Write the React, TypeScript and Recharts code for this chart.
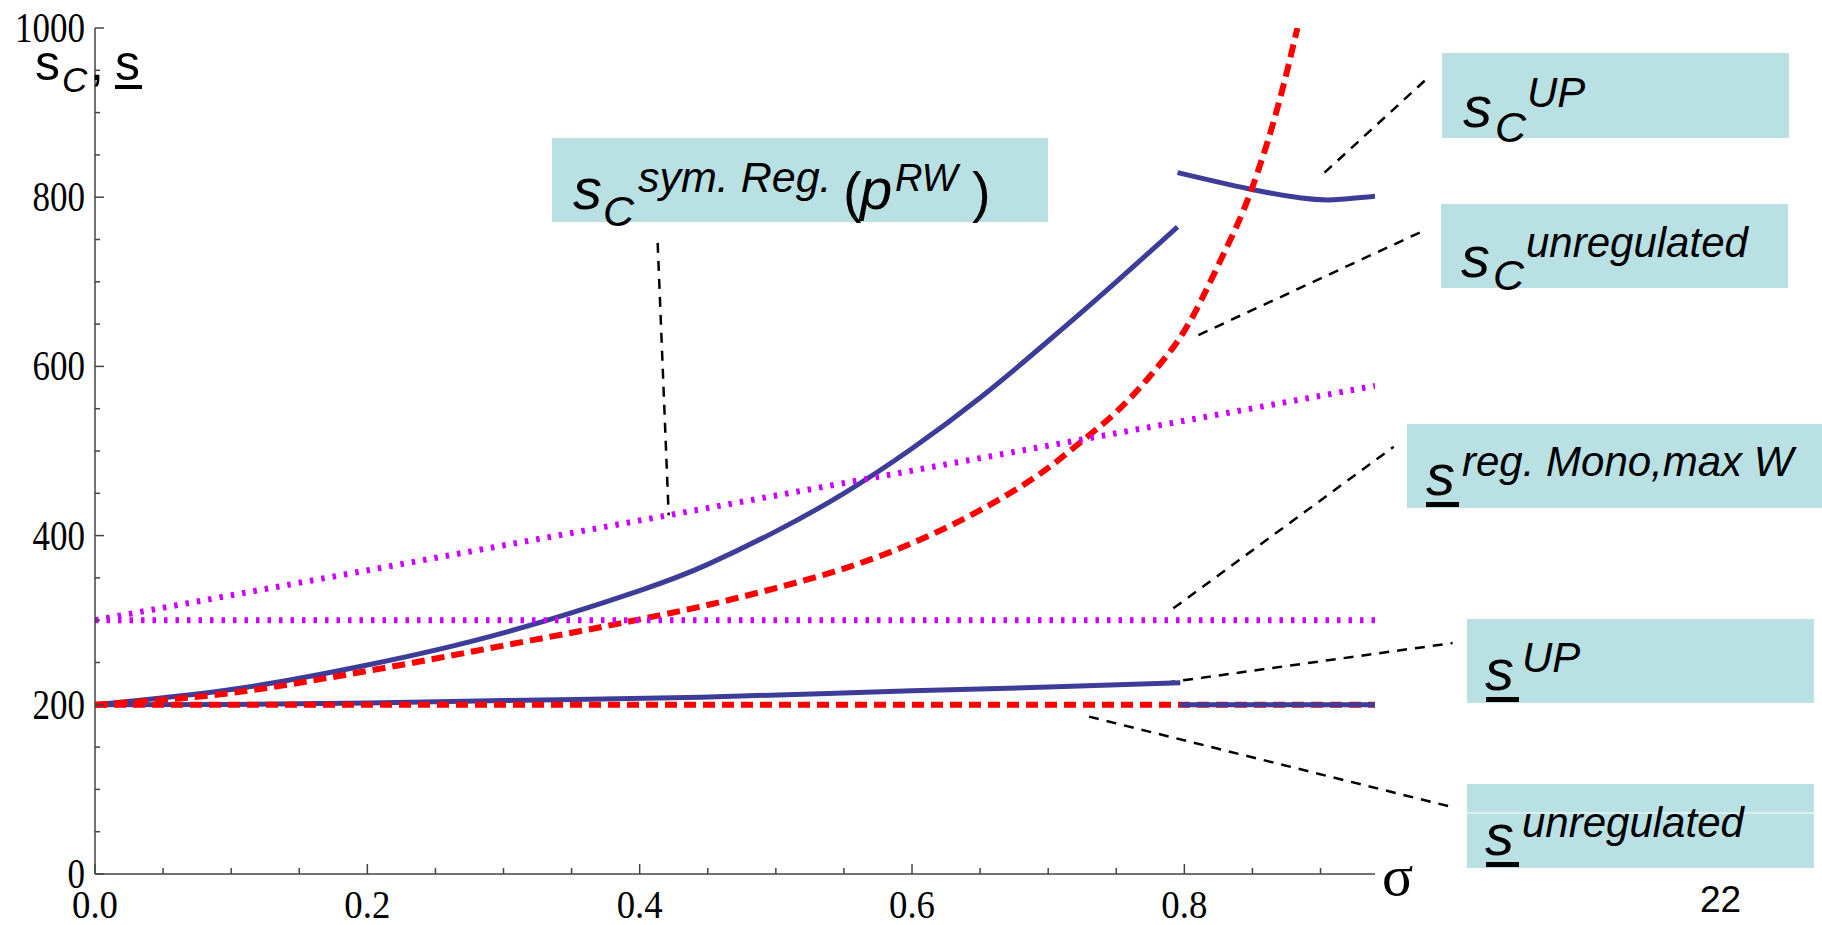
import React from "react";
import { LineChart, Line, XAxis, YAxis, ReferenceLine } from "recharts";

// axis ticks (minor every 0.05 / 50, labels on the majors)
const sigmaTicks = [0, 0.05, 0.1, 0.15, 0.2, 0.25, 0.3, 0.35, 0.4, 0.45, 0.5, 0.55, 0.6, 0.65, 0.7, 0.75, 0.8, 0.85, 0.9];
const sigmaLabels = [0, 0.2, 0.4, 0.6, 0.8];
const sTicks = [0, 50, 100, 150, 200, 250, 300, 350, 400, 450, 500, 550, 600, 650, 700, 750, 800, 850, 900, 950, 1000];
const sLabels = [0, 200, 400, 600, 800, 1000];

// s_C^UP, two branches
const scUpSigmaA = [0, 0.1, 0.2, 0.3, 0.4, 0.45, 0.5, 0.55, 0.6, 0.65, 0.7, 0.75, 0.795];
const scUpValueA = [200, 218, 247, 285, 335, 366, 405, 450, 503, 563, 630, 700, 765];
const scUpSigmaB = [0.795, 0.847, 0.886, 0.91, 0.94];
const scUpValueB = [829, 810, 799, 797, 801];

// s_C^unregulated
const scUnregSigma = [0, 0.1, 0.2, 0.3, 0.4, 0.45, 0.5, 0.55, 0.6, 0.65, 0.7, 0.725, 0.75, 0.775, 0.8, 0.825, 0.85, 0.87, 0.883];
const scUnregValue = [200, 214, 240, 270, 301, 318, 338, 361, 391, 430, 480, 512, 546, 589, 642, 720, 812, 915, 1000];

// s_C^sym. Reg.(p^RW)
const scSymSigma = [0, 0.94];
const scSymValue = [300, 577];

// s^reg. Mono, max W
const sMonoSigma = [0, 0.94];
const sMonoValue = [300, 300];

// s^UP, two branches
const sUpSigmaA = [0, 0.1, 0.2, 0.3, 0.445, 0.6, 0.7, 0.797];
const sUpValueA = [200, 200.5, 202, 205, 209, 216.5, 221, 226];
const sUpSigmaB = [0.797, 0.94];
const sUpValueB = [200, 200];

// s^unregulated
const sUnregSigma = [0, 0.94];
const sUnregValue = [200, 200];

// leader lines from each curve to its label box, in data units
const leaders = [
  [[0.4132, 746], [0.4213, 424]],
  [[0.9029, 829], [0.9794, 942]],
  [[0.8103, 637], [0.9779, 762]],
  [[0.7919, 314], [0.9537, 505]],
  [[0.786, 226], [0.997, 273]],
  [[0.73, 186], [0.997, 79]],
];

const BLUE = "#3d3d99";
const RED = "#ff0000";
const MAGENTA = "#cc00ff";
const BOX = "#b9e0e2";
const AXIS = "#444";

const pts = (xs: number[], ys: number[]) => xs.map((x, i) => ({ sigma: x, s: ys[i] }));

function SigmaTick(props: any) {
  const { x, y, payload } = props;
  const v = payload.value;
  const major = sigmaLabels.includes(v);
  return (
    <g>
      <line x1={x} x2={x} y1={y} y2={y - (major ? 10 : 6)} stroke={AXIS} strokeWidth={1.5} />
      {major && (
        <text x={x} y={y + 44} textAnchor="middle" fontFamily="Liberation Serif" fontSize={41}
          textLength={46} lengthAdjust="spacingAndGlyphs" fill="#000">
          {v.toFixed(1)}
        </text>
      )}
    </g>
  );
}

function STick(props: any) {
  const { x, y, payload } = props;
  const v = payload.value;
  const major = sLabels.includes(v);
  const label = String(v);
  return (
    <g>
      <line x1={x} x2={x + (major ? 9 : 5)} y1={y} y2={y} stroke={AXIS} strokeWidth={1.5} />
      {major && (
        <text x={x - 10} y={y + 14} textAnchor="end" fontFamily="Liberation Serif" fontSize={42}
          textLength={label.length * 17.5} lengthAdjust="spacingAndGlyphs" fill="#000">
          {label}
        </text>
      )}
    </g>
  );
}

const sans = "Liberation Sans, Arial, sans-serif";

function Labels() {
  return (
    <svg width={1822} height={925} style={{ position: "absolute", left: 0, top: 0, pointerEvents: "none" }}>
      {/* axis titles */}
      <text fontFamily={sans} fill="#000">
        <tspan x={35} y={80} fontSize={50}>s</tspan>
        <tspan x={62} y={92} fontSize={35} fontStyle="italic">C</tspan>
        <tspan x={90} y={80} fontSize={50}>,</tspan>
        <tspan x={115} y={80} fontSize={50}>s</tspan>
      </text>
      <rect x={115} y={85} width={27} height={4} fill="#000" />
      <text x={1382} y={895} fontFamily="Liberation Serif" fontSize={58} fill="#000">σ</text>
      <text x={1700} y={912} fontFamily={sans} fontSize={37} fill="#000">22</text>

      {/* s_C^sym. Reg.(p^RW) */}
      <rect x={552} y={138} width={496} height={84} fill={BOX} />
      <text fontFamily={sans} fontStyle="italic" fill="#000">
        <tspan x={573} y={209} fontSize={58}>s</tspan>
        <tspan x={603} y={226} fontSize={43}>C</tspan>
        <tspan x={638} y={192} fontSize={43}>sym. Reg.</tspan>
        <tspan x={843} y={211} fontSize={56} fontStyle="normal">(</tspan>
        <tspan x={860} y={209} fontSize={58}>p</tspan>
        <tspan x={895} y={191} fontSize={38}>RW</tspan>
        <tspan x={972} y={211} fontSize={56} fontStyle="normal">)</tspan>
      </text>

      {/* s_C^UP */}
      <rect x={1442} y={53} width={347} height={85} fill={BOX} />
      <text fontFamily={sans} fontStyle="italic" fill="#000">
        <tspan x={1463} y={127} fontSize={58}>s</tspan>
        <tspan x={1495} y={142} fontSize={43}>C</tspan>
        <tspan x={1527} y={107} fontSize={42}>UP</tspan>
      </text>

      {/* s_C^unregulated */}
      <rect x={1441} y={204} width={347} height={84} fill={BOX} />
      <text fontFamily={sans} fontStyle="italic" fill="#000">
        <tspan x={1461} y={277} fontSize={58}>s</tspan>
        <tspan x={1493} y={290} fontSize={43}>C</tspan>
        <tspan x={1526} y={257} fontSize={42}>unregulated</tspan>
      </text>

      {/* s^reg. Mono,max W */}
      <rect x={1407} y={424} width={415} height={84} fill={BOX} />
      <text fontFamily={sans} fontStyle="italic" fill="#000">
        <tspan x={1426} y={495} fontSize={58}>s</tspan>
        <tspan x={1462} y={476} fontSize={42}>reg. Mono,max W</tspan>
      </text>
      <rect x={1426} y={502} width={33} height={5} fill="#000" />

      {/* s^UP */}
      <rect x={1467} y={619} width={347} height={84} fill={BOX} />
      <text fontFamily={sans} fontStyle="italic" fill="#000">
        <tspan x={1485} y={690} fontSize={58}>s</tspan>
        <tspan x={1522} y={672} fontSize={42}>UP</tspan>
      </text>
      <rect x={1486} y={697} width={33} height={5} fill="#000" />

      {/* s^unregulated */}
      <rect x={1467} y={784} width={347} height={84} fill={BOX} />
      <line x1={1467} x2={1814} y1={813} y2={813} stroke="#fff" strokeWidth={1} />
      <text fontFamily={sans} fontStyle="italic" fill="#000">
        <tspan x={1485} y={855} fontSize={58}>s</tspan>
        <tspan x={1522} y={837} fontSize={42}>unregulated</tspan>
      </text>
      <rect x={1486} y={862} width={33} height={5} fill="#000" />
    </svg>
  );
}

export default function App() {
  const line = { dataKey: "s", dot: false, activeDot: false, isAnimationActive: false, strokeLinecap: "butt" as const };
  return (
    <div style={{ position: "absolute", left: 0, top: 0, width: 1822, height: 925, background: "#fff" }}>
      <LineChart width={1822} height={925} margin={{ top: 28, right: 447, bottom: 0, left: 0 }}>
        <XAxis dataKey="sigma" type="number" domain={[0, 0.94]} ticks={sigmaTicks} interval={0}
          allowDataOverflow height={51} tickSize={0} tickMargin={0} tickLine={false}
          axisLine={{ stroke: AXIS, strokeWidth: 1.5 }} tick={<SigmaTick />} />
        <YAxis type="number" domain={[0, 1000]} ticks={sTicks} interval={0} allowDataOverflow
          width={95} tickSize={0} tickMargin={0} tickLine={false}
          axisLine={{ stroke: AXIS, strokeWidth: 1.5 }} tick={<STick />} />

        {leaders.map((seg, i) => (
          <ReferenceLine key={i} ifOverflow="visible" stroke="#000" strokeWidth={2.5} strokeDasharray="10 8"
            segment={[{ x: seg[0][0], y: seg[0][1] }, { x: seg[1][0], y: seg[1][1] }]} />
        ))}

        <Line {...line} data={pts(scUpSigmaA, scUpValueA)} type="natural" stroke={BLUE} strokeWidth={5} />
        <Line {...line} data={pts(scUpSigmaB, scUpValueB)} type="natural" stroke={BLUE} strokeWidth={5} />
        <Line {...line} data={pts(sUpSigmaA, sUpValueA)} type="monotone" stroke={BLUE} strokeWidth={5} />
        <Line {...line} data={pts(sUnregSigma, sUnregValue)} type="linear" stroke={RED} strokeWidth={6} strokeDasharray="12 7" />
        <Line {...line} data={pts(scUnregSigma, scUnregValue)} type="monotone" stroke={RED} strokeWidth={6} strokeDasharray="13 7" />
        <Line {...line} data={pts(scSymSigma, scSymValue)} type="linear" stroke={MAGENTA} strokeWidth={6} strokeDasharray="3.5 8" />
        <Line {...line} data={pts(sMonoSigma, sMonoValue)} type="linear" stroke={MAGENTA} strokeWidth={6} strokeDasharray="3.5 8" />
        <Line {...line} data={pts(sUpSigmaB, sUpValueB)} type="linear" stroke={BLUE} strokeWidth={5} />
      </LineChart>
      <Labels />
    </div>
  );
}
